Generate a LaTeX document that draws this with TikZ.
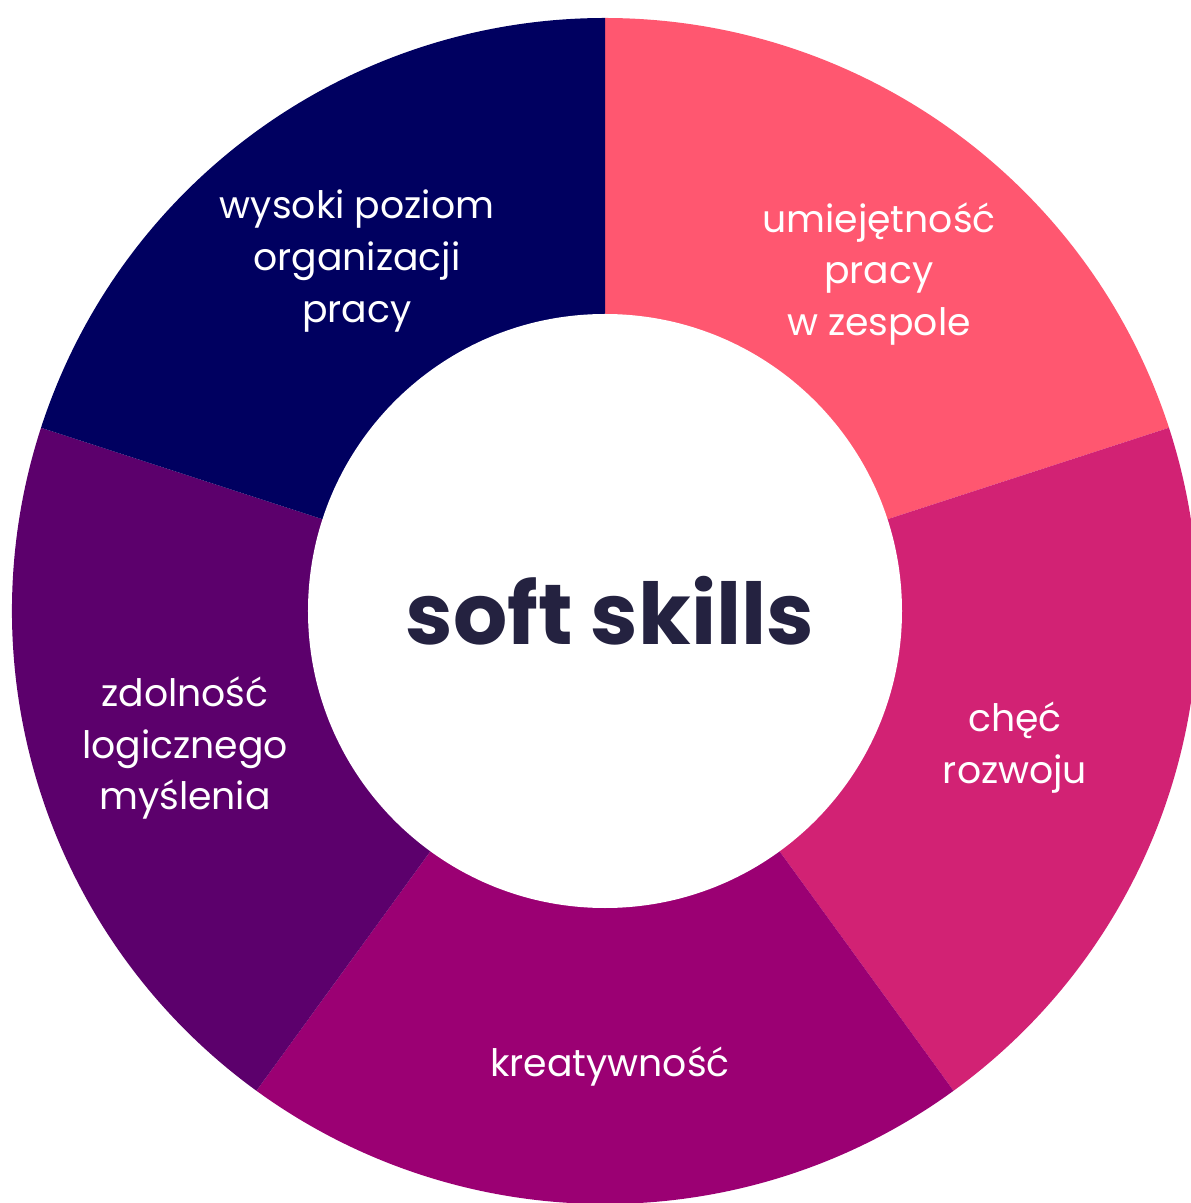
\documentclass[tikz,border=0pt]{standalone}
\usepackage{fontspec}
\setmainfont{Poppins}
\usepackage{tikz}

\definecolor{segpink}{RGB}{255,87,112}
\definecolor{segrose}{RGB}{210,34,116}
\definecolor{segmagenta}{RGB}{155,0,115}
\definecolor{segplum}{RGB}{92,0,108}
\definecolor{segnavy}{RGB}{0,0,96}
\definecolor{titleink}{RGB}{36,34,64}

\begin{document}
\begin{tikzpicture}[x=0.02cm, y=0.02cm,
        seg/.style = {draw=none},
        lab/.style = {text=white, align=center, font=\fontsize{21.5}{29.5}\selectfont},
        title/.style = {text=titleink, font=\fontsize{48.5}{58}\selectfont\bfseries}]
        \useasboundingbox (-605,-592) rectangle (585,611);
        % ring segments
        \fill[seg, segpink] (0,0) -- (90:593) arc[start angle=90, end angle=18, radius=593] -- cycle;
        \fill[seg, segrose] (0,0) -- (18:593) arc[start angle=18, end angle=-54, radius=593] -- cycle;
        \fill[seg, segmagenta] (0,0) -- (-54:593) arc[start angle=-54, end angle=-126, radius=593] -- cycle;
        \fill[seg, segplum] (0,0) -- (-126:593) arc[start angle=-126, end angle=-198, radius=593] -- cycle;
        \fill[seg, segnavy] (0,0) -- (162:593) arc[start angle=162, end angle=90, radius=593] -- cycle;
        \fill[white] (0,0) circle[radius=297];
        % labels
        \node[title] (center) at (5,0) {soft skills};
        \node[lab] (team) at (274,337) {umiejętność\\pracy\\w zespole};
        \node[lab] (growth) at (410,-137) {chęć\\rozwoju};
        \node[lab] (creative) at (5,-455) {kreatywność};
        \node[lab] (logic) at (-420,-137) {zdolność\\logicznego\\myślenia};
        \node[lab] (organize) at (-248,350) {wysoki poziom\\organizacji\\pracy};
\end{tikzpicture}
\end{document}
